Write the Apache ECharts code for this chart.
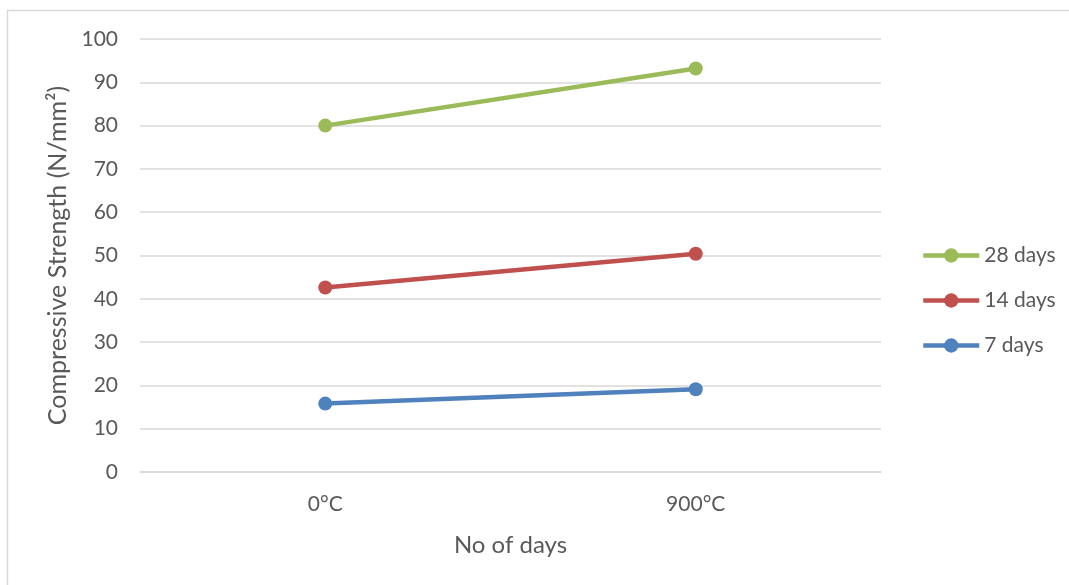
<!DOCTYPE html>
<html>
<head>
<meta charset="utf-8">
<script src="https://cdn.jsdelivr.net/npm/echarts@6/dist/echarts.min.js"></script>
<style>
  html, body { margin: 0; padding: 0; background: #fff; }
  #chart { width: 1069px; height: 585px; }
</style>
</head>
<body>
<div id="chart"></div>
<script>
// Compressive strength by exposure temperature, per curing age
const categories = ['0°C', '900°C'];
const seriesNames = ['28 days', '14 days', '7 days'];
const days28 = [80.0, 93.2];
const days14 = [42.6, 50.4];
const days7 = [15.8, 19.1];
const yTicks = { min: 0, max: 100, interval: 10 };

const colors = { '28 days': '#9BBB59', '14 days': '#C0504D', '7 days': '#4F81BD' };
const values = { '28 days': days28, '14 days': days14, '7 days': days7 };

const font = 'Lato, "Open Sans", sans-serif';
const textColor = '#595959';
const gridColor = '#d9d9d9';

const chart = echarts.init(document.getElementById('chart'), null, { renderer: 'canvas' });

chart.setOption({
  animation: false,
  backgroundColor: '#fff',
  textStyle: { fontFamily: font },
  graphic: [{
    type: 'rect',
    shape: { x: 7.5, y: 10.5, width: 1100, height: 600 },
    style: { fill: 'none', stroke: '#d9d9d9', lineWidth: 1.5 },
    silent: true
  }],
  grid: { left: 140, right: 188, top: 39, bottom: 113 },
  legend: {
    data: seriesNames,
    orient: 'vertical',
    left: 921,
    top: 245,
    padding: 0,
    itemWidth: 56,
    itemHeight: 18,
    itemGap: 24,
    lineStyle: { width: 4.5 },
    textStyle: { fontFamily: font, fontSize: 21, color: textColor }
  },
  xAxis: {
    type: 'category',
    data: categories,
    boundaryGap: true,
    name: 'No of days',
    nameLocation: 'middle',
    nameGap: 61,
    nameTextStyle: { fontFamily: font, fontSize: 24, color: textColor },
    axisLine: { lineStyle: { color: gridColor, width: 1.5 } },
    axisTick: { show: false },
    axisLabel: { fontFamily: font, fontSize: 21, color: textColor, margin: 22 }
  },
  yAxis: {
    type: 'value',
    min: yTicks.min,
    max: yTicks.max,
    interval: yTicks.interval,
    name: 'Compressive Strength (N/mm²)',
    nameLocation: 'middle',
    nameGap: 69,
    nameTextStyle: { fontFamily: font, fontSize: 25, color: textColor },
    axisLine: { show: false },
    axisTick: { show: false },
    axisLabel: { fontFamily: font, fontSize: 21, color: textColor, margin: 22 },
    splitLine: { lineStyle: { color: gridColor, width: 1.5 } }
  },
  series: ['7 days', '14 days', '28 days'].map(name => ({
    name: name,
    type: 'line',
    data: values[name],
    symbol: 'circle',
    symbolSize: 14,
    lineStyle: { width: 4.5, color: colors[name] },
    itemStyle: { color: colors[name] }
  }))
});
</script>
</body>
</html>
